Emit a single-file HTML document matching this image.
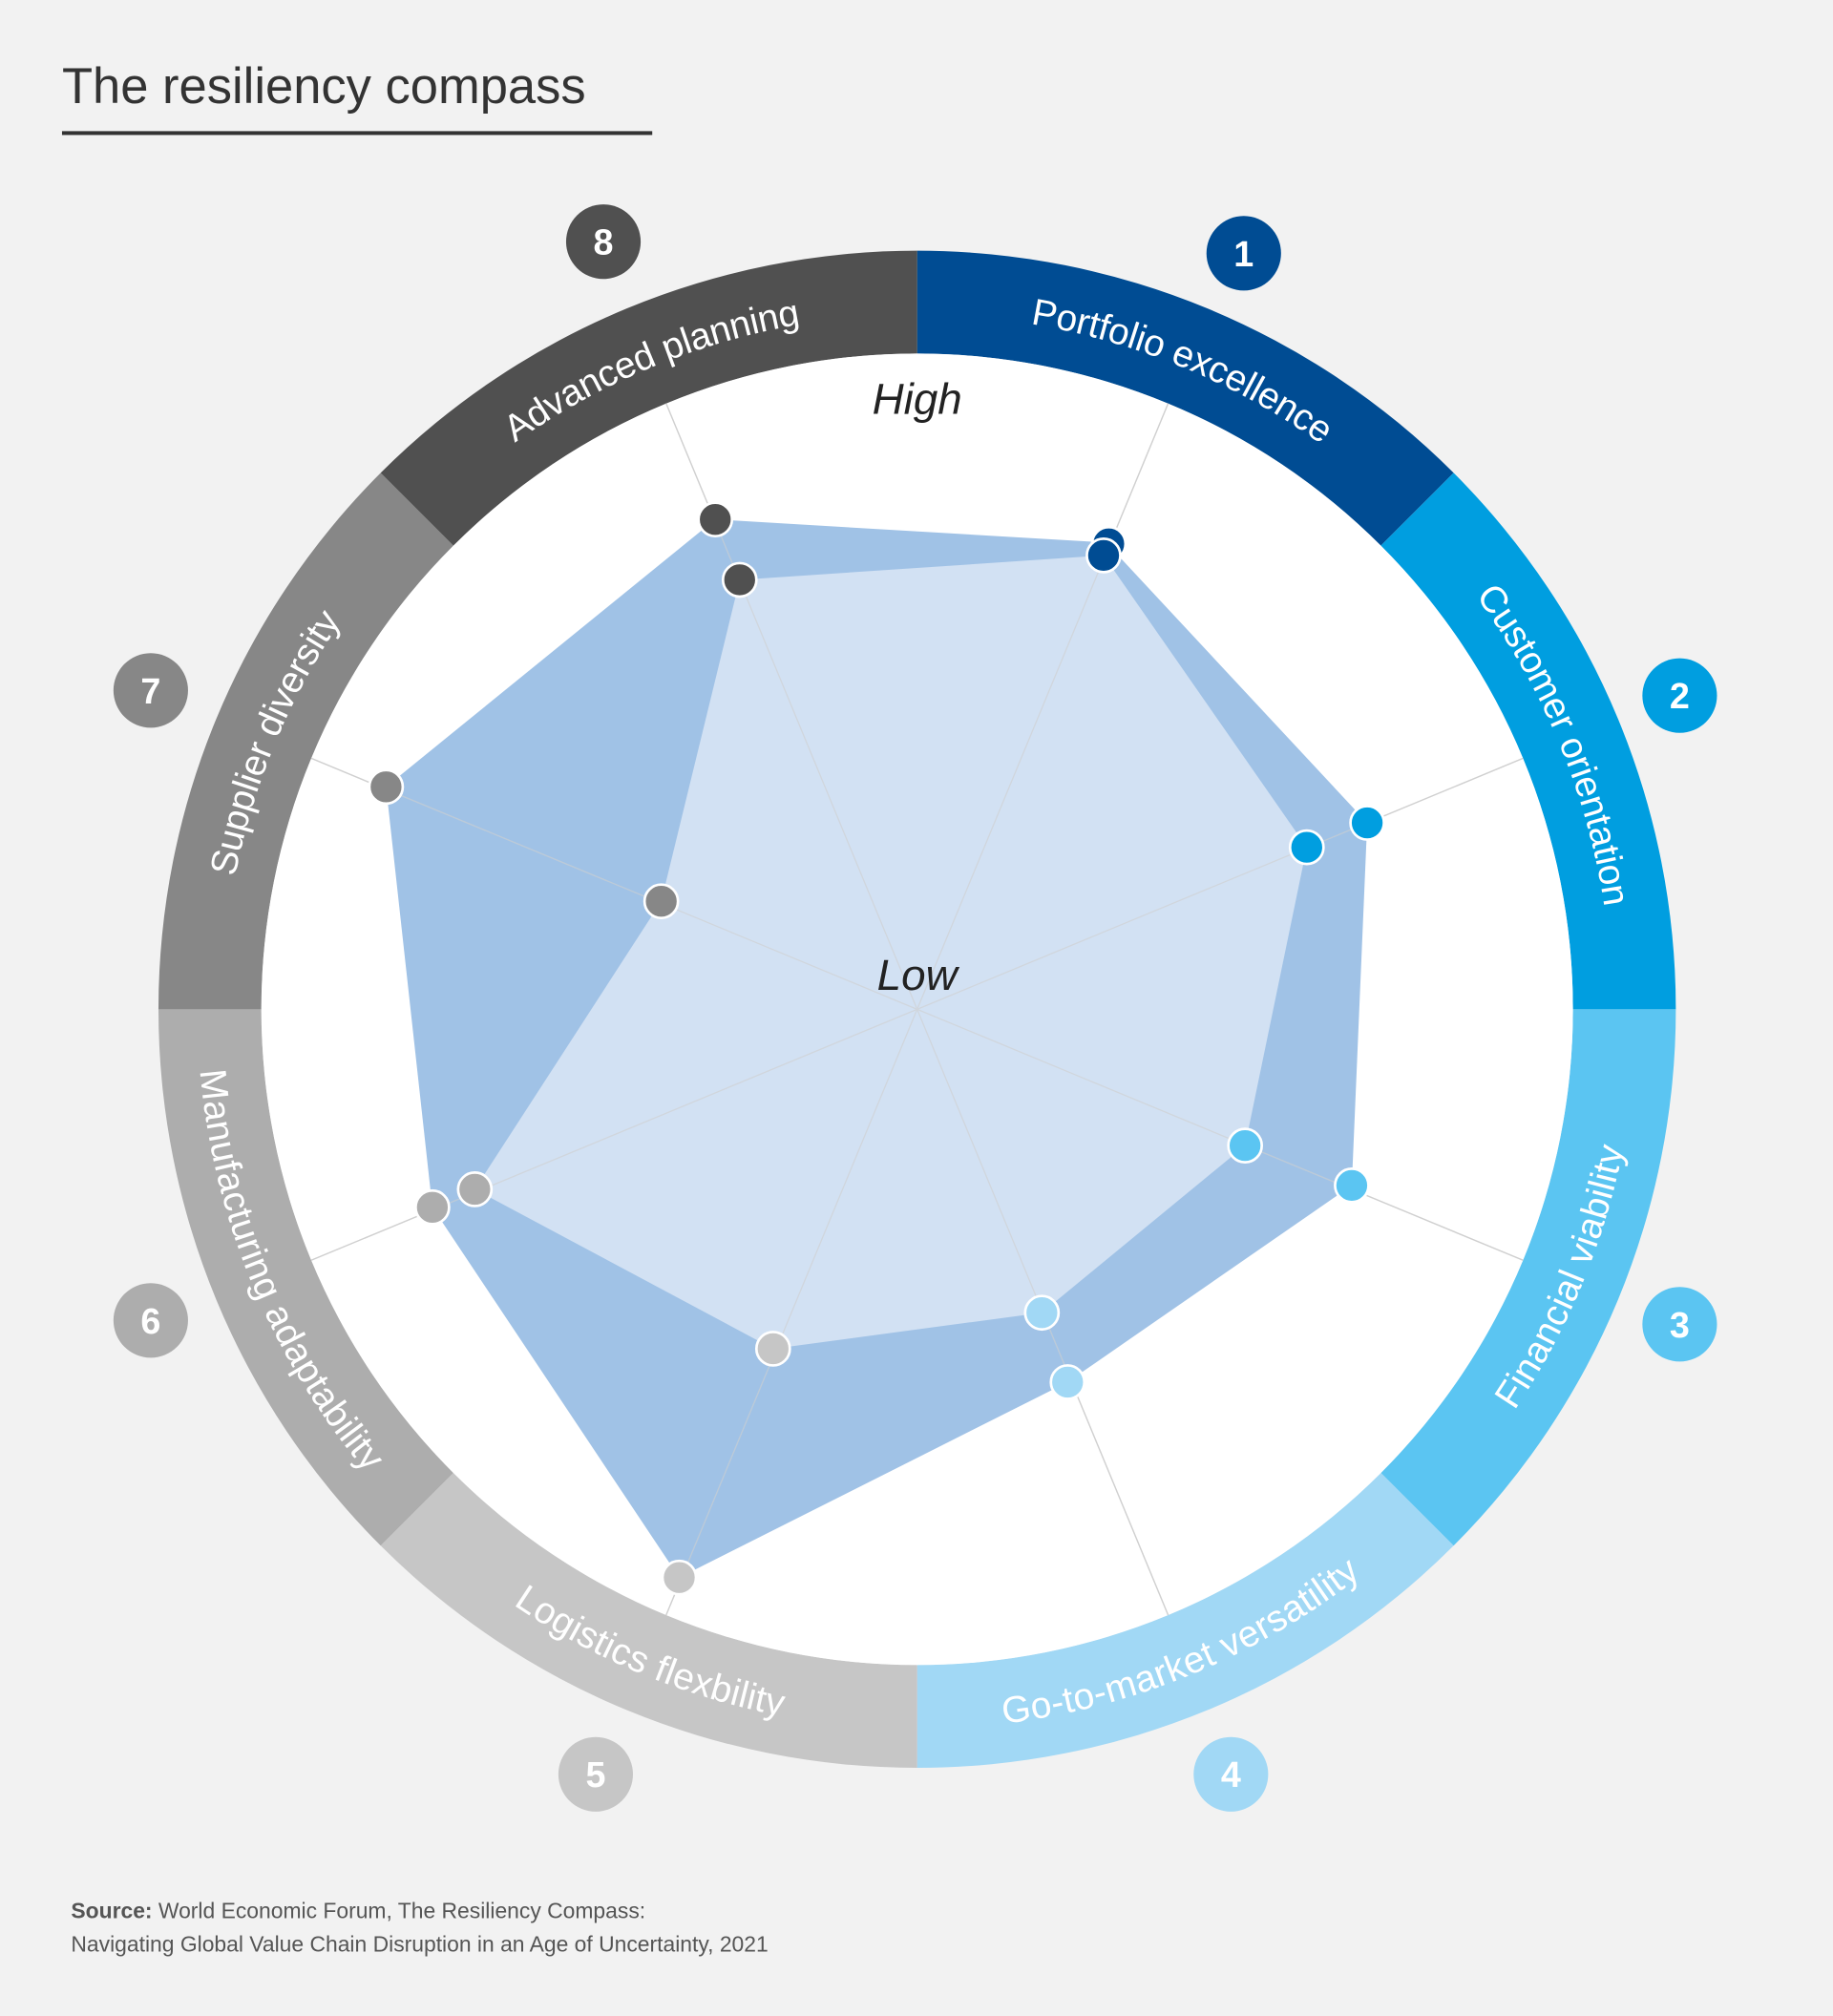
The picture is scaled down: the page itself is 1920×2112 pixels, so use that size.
<!DOCTYPE html>
<html><head><meta charset="utf-8"><style>
html,body{margin:0;padding:0;background:#f2f2f2;}
svg{display:block;}
text{font-family:"Liberation Sans",sans-serif;}
</style></head><body>
<svg width="1920" height="2112" viewBox="0 0 1425 1568" xmlns="http://www.w3.org/2000/svg">
<rect width="1425" height="1568" fill="#f2f2f2"/>
<text x="48" y="80" font-size="39" fill="#333">The resiliency compass</text>
<rect x="48" y="102" width="459" height="3" fill="#333"/>

<path d="M713,195 A590,590 0 0 1 1130.2,367.8 L1073.6,424.4 A510,510 0 0 0 713,275 Z" fill="#004c93"/>
<path d="M1130.2,367.8 A590,590 0 0 1 1303,785 L1223,785 A510,510 0 0 0 1073.6,424.4 Z" fill="#009ee0"/>
<path d="M1303,785 A590,590 0 0 1 1130.2,1202.2 L1073.6,1145.6 A510,510 0 0 0 1223,785 Z" fill="#5bc5f2"/>
<path d="M1130.2,1202.2 A590,590 0 0 1 713,1375 L713,1295 A510,510 0 0 0 1073.6,1145.6 Z" fill="#a1d8f5"/>
<path d="M713,1375 A590,590 0 0 1 295.8,1202.2 L352.4,1145.6 A510,510 0 0 0 713,1295 Z" fill="#c6c6c6"/>
<path d="M295.8,1202.2 A590,590 0 0 1 123,785 L203,785 A510,510 0 0 0 352.4,1145.6 Z" fill="#adadad"/>
<path d="M123,785 A590,590 0 0 1 295.8,367.8 L352.4,424.4 A510,510 0 0 0 203,785 Z" fill="#878787"/>
<path d="M295.8,367.8 A590,590 0 0 1 713,195 L713,275 A510,510 0 0 0 352.4,424.4 Z" fill="#505050"/>
<circle cx="713" cy="785" r="510" fill="#fff"/>

<g stroke="#d0d0d0" stroke-width="1">
<line x1="713" y1="785" x2="908.2" y2="313.8"/>
<line x1="713" y1="785" x2="1184.2" y2="589.8"/>
<line x1="713" y1="785" x2="1184.2" y2="980.2"/>
<line x1="713" y1="785" x2="908.2" y2="1256.2"/>
<line x1="713" y1="785" x2="517.8" y2="1256.2"/>
<line x1="713" y1="785" x2="241.8" y2="980.2"/>
<line x1="713" y1="785" x2="241.8" y2="589.8"/>
<line x1="713" y1="785" x2="517.8" y2="313.8"/>
</g>

<polygon points="860,422 1063,640 1051,922 830,1075 528,1227 336,939 300,612 556,404" fill="#a0c2e6"/>
<polygon points="858,432 1016,659 968,891 810,1021 601,1049 369,925 514,701 575,451" fill="#d2e1f3"/>
<g stroke="#d0d0d0" stroke-width="1" opacity="0.6">
<line x1="713" y1="785" x2="908.2" y2="313.8"/>
<line x1="713" y1="785" x2="1184.2" y2="589.8"/>
<line x1="713" y1="785" x2="1184.2" y2="980.2"/>
<line x1="713" y1="785" x2="908.2" y2="1256.2"/>
<line x1="713" y1="785" x2="517.8" y2="1256.2"/>
<line x1="713" y1="785" x2="241.8" y2="980.2"/>
<line x1="713" y1="785" x2="241.8" y2="589.8"/>
<line x1="713" y1="785" x2="517.8" y2="313.8"/>
</g>

<text x="713" y="322" font-size="34" font-style="italic" fill="#222" text-anchor="middle">High</text>
<text x="713" y="770" font-size="34" font-style="italic" fill="#222" text-anchor="middle">Low</text>

<g stroke="#fff" stroke-width="2">
<circle cx="862" cy="423" r="13" fill="#004c93"/><circle cx="858" cy="432" r="13" fill="#004c93"/>
<circle cx="1063" cy="640" r="13" fill="#009ee0"/><circle cx="1016" cy="659" r="13" fill="#009ee0"/>
<circle cx="1051" cy="922" r="13" fill="#5bc5f2"/><circle cx="968" cy="891" r="13" fill="#5bc5f2"/>
<circle cx="830" cy="1075" r="13" fill="#a1d8f5"/><circle cx="810" cy="1021" r="13" fill="#a1d8f5"/>
<circle cx="528" cy="1227" r="13" fill="#c6c6c6"/><circle cx="601" cy="1049" r="13" fill="#c6c6c6"/>
<circle cx="336" cy="939" r="13" fill="#adadad"/><circle cx="369" cy="925" r="13" fill="#adadad"/>
<circle cx="300" cy="612" r="13" fill="#878787"/><circle cx="514" cy="701" r="13" fill="#878787"/>
<circle cx="556" cy="404" r="13" fill="#505050"/><circle cx="575" cy="451" r="13" fill="#505050"/>
</g>

<defs>
<path id="a1" d="M713,235 A550,550 0 0 1 1101.9,396.1"/>
<path id="a2" d="M1101.9,396.1 A550,550 0 0 1 1263,785"/>
<path id="a3" d="M1101.9,1173.9 A550,550 0 0 0 1263,785"/>
<path id="a4" d="M713,1335 A550,550 0 0 0 1101.9,1173.9"/>
<path id="a5" d="M324.1,1173.9 A550,550 0 0 0 713,1335"/>
<path id="a6" d="M163,785 A550,550 0 0 0 324.1,1173.9"/>
<path id="a7" d="M163,785 A550,550 0 0 1 324.1,396.1"/>
<path id="a8" d="M324.1,396.1 A550,550 0 0 1 713,235"/>
</defs>
<g font-size="29" fill="#fff" text-anchor="middle" dominant-baseline="central">
<text><textPath href="#a1" startOffset="50%">Portfolio excellence</textPath></text>
<text><textPath href="#a2" startOffset="50%">Customer orientation</textPath></text>
<text><textPath href="#a3" startOffset="50%">Financial viability</textPath></text>
<text><textPath href="#a4" startOffset="50%">Go-to-market versatility</textPath></text>
<text><textPath href="#a5" startOffset="50%">Logistics flexbility</textPath></text>
<text><textPath href="#a6" startOffset="50%">Manufacturing adaptability</textPath></text>
<text><textPath href="#a7" startOffset="50%">Supplier diversity</textPath></text>
<text><textPath href="#a8" startOffset="50%">Advanced planning</textPath></text>
</g>

<g font-size="28" font-weight="bold" fill="#fff" text-anchor="middle">
<circle cx="967" cy="197" r="29" fill="#004c93"/><text x="967" y="207">1</text>
<circle cx="1306" cy="541" r="29" fill="#009ee0"/><text x="1306" y="551">2</text>
<circle cx="1306" cy="1030" r="29" fill="#5bc5f2"/><text x="1306" y="1040">3</text>
<circle cx="957" cy="1380" r="29" fill="#a1d8f5"/><text x="957" y="1390">4</text>
<circle cx="463" cy="1380" r="29" fill="#c6c6c6"/><text x="463" y="1390">5</text>
<circle cx="117" cy="1027" r="29" fill="#adadad"/><text x="117" y="1037">6</text>
<circle cx="117" cy="537" r="29" fill="#878787"/><text x="117" y="547">7</text>
<circle cx="469" cy="188" r="29" fill="#505050"/><text x="469" y="198">8</text>
</g>

<text x="55" y="1492" font-size="17" fill="#555"><tspan font-weight="bold">Source:</tspan> World Economic Forum, The Resiliency Compass:</text>
<text x="55" y="1518" font-size="17" fill="#555">Navigating Global Value Chain Disruption in an Age of Uncertainty, 2021</text>
</svg>
</body></html>
